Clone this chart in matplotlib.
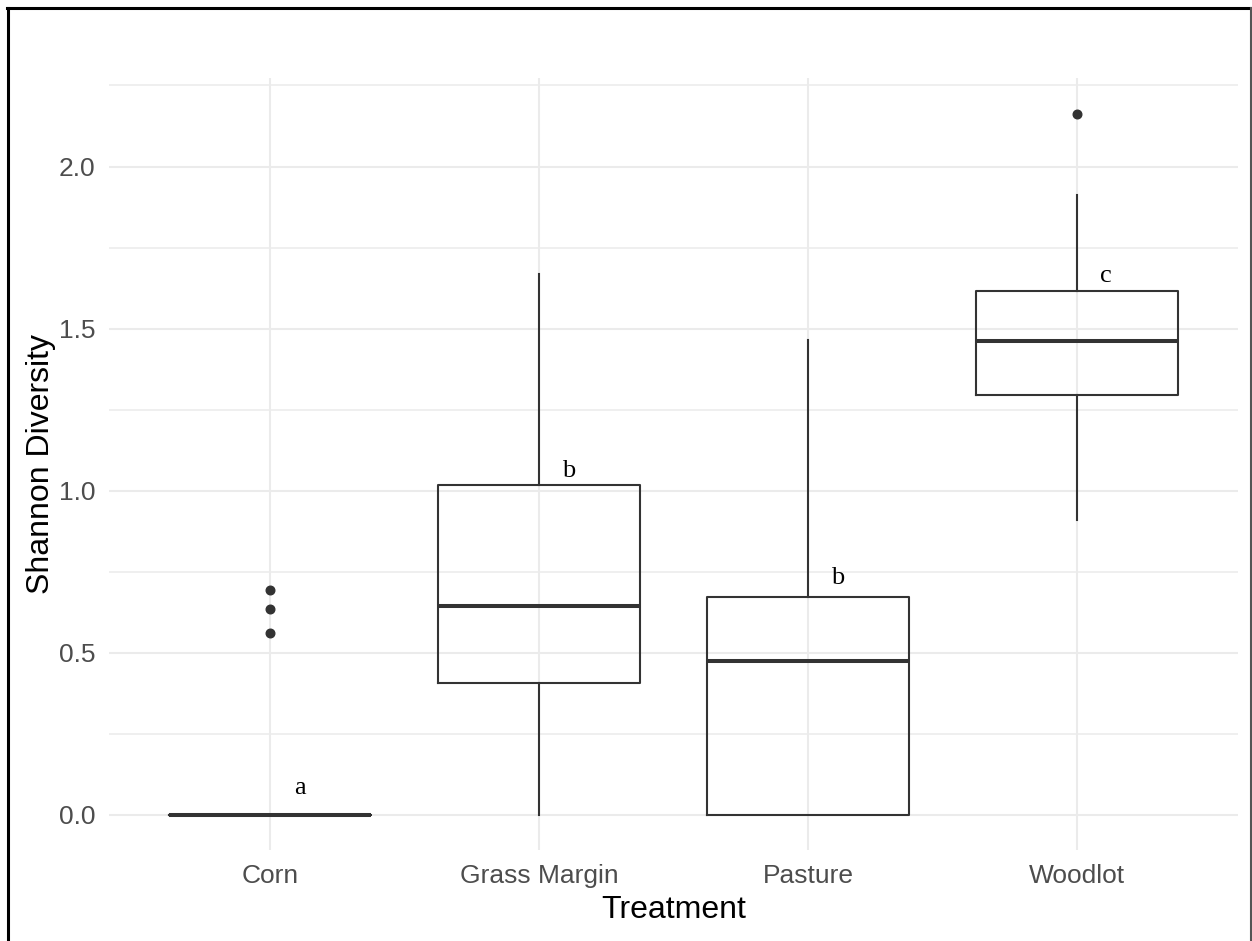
import matplotlib.pyplot as plt
from matplotlib.lines import Line2D

# data
treatments = ["Corn", "Grass Margin", "Pasture", "Woodlot"]
whisk_lo = [0.0, 0.0, 0.0, 0.911]
q1s = [0.0, 0.408, 0.0, 1.294]
medians = [0.0, 0.646, 0.474, 1.462]
q3s = [0.0, 1.017, 0.672, 1.615]
whisk_hi = [0.0, 1.670, 1.465, 1.911]
outliers = [[0.693, 0.635, 0.562], [], [], [2.163]]

letters = ["a", "b", "b", "c"]
letter_y = [0.065, 1.043, 0.711, 1.644]

ink = "#333333"
grid_col = "#EBEBEB"

fig = plt.figure(figsize=(12.52, 9.41), dpi=100)
ax = fig.add_axes([109 / 1252, 91 / 941, 1129 / 1252, 772 / 941])

stats = []
for i, name in enumerate(treatments):
    stats.append(dict(label=name, whislo=whisk_lo[i], q1=q1s[i], med=medians[i],
                      q3=q3s[i], whishi=whisk_hi[i], fliers=outliers[i]))

positions = list(range(len(treatments)))
ax.bxp(stats, positions=positions, widths=0.75, showcaps=False, patch_artist=False,
       boxprops=dict(color=ink, linewidth=1.5),
       whiskerprops=dict(color=ink, linewidth=1.5),
       medianprops=dict(color=ink, linewidth=2.9),
       flierprops=dict(marker='o', markerfacecolor=ink, markeredgecolor=ink,
                       markersize=6.2),
       zorder=3)

for i, lab in enumerate(letters):
    ax.text(positions[i] + 0.11, letter_y[i], lab, ha='center', va='baseline',
            fontsize=19, family='Liberation Serif', color='black', zorder=4)

ax.set_xlim(-0.6, 3.6)
ax.set_ylim(-0.108, 2.273)
ax.set_xticks(positions)
ax.set_xticklabels(treatments)
ax.set_yticks([0.0, 0.5, 1.0, 1.5, 2.0])
ax.set_yticklabels(["0.0", "0.5", "1.0", "1.5", "2.0"])
ax.set_yticks([0.25, 0.75, 1.25, 1.75, 2.25], minor=True)

ax.grid(True, which='major', color=grid_col, linewidth=1.5, zorder=0)
ax.grid(True, which='minor', axis='y', color=grid_col, linewidth=1.1, zorder=0)
ax.set_axisbelow(True)

for s in ax.spines.values():
    s.set_visible(False)
ax.tick_params(axis='both', which='both', length=0, pad=10, labelsize=19,
               labelcolor='#4D4D4D')
for t in ax.get_xticklabels() + ax.get_yticklabels():
    t.set_family('Liberation Sans')

ax.set_xlabel("Treatment", fontsize=23, family='Liberation Sans', labelpad=5)
ax.set_ylabel("Shannon Diversity", fontsize=23, family='Liberation Sans', labelpad=2)

# frame around the picture (no bottom edge)
W, H = 1252, 941
fig.add_artist(Line2D([8.3 / W, 8.3 / W], [0, 1 - 7.7 / H], color='black', linewidth=2.2))
fig.add_artist(Line2D([7 / W, 1251 / W], [1 - 7.7 / H, 1 - 7.7 / H], color='black', linewidth=2.2))
fig.add_artist(Line2D([1250.5 / W, 1250.5 / W], [0, 1 - 7.7 / H], color='#555555', linewidth=1.5))

fig.savefig("out.png", dpi=100)
